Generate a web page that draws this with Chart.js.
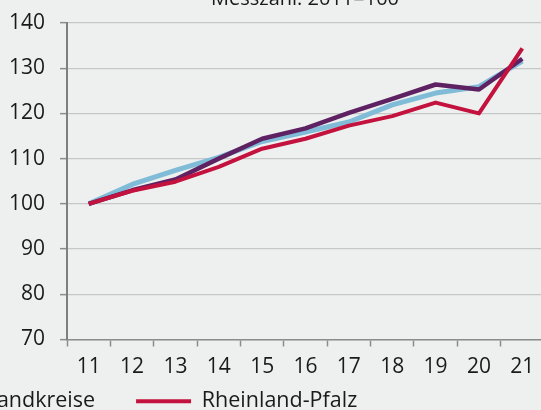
<!DOCTYPE html>
<html>
<head>
<meta charset="utf-8">
<script src="https://cdn.jsdelivr.net/npm/chart.js@4"></script>
<style>
  html, body { margin: 0; padding: 0; background: #eef0ef; overflow: hidden; width: 541px; height: 410px; }
  #wrap { position: absolute; }
</style>
</head>
<body>
<div id="wrap"><canvas id="chart"></canvas></div>
<script>
// Messzahl: 2011=100
const years = ['11', '12', '13', '14', '15', '16', '17', '18', '19', '20', '21'];
const kreisfreieStaedte = [100, 103.0, 105.4, 110.0, 114.4, 116.7, 120.1, 123.2, 126.4, 125.3, 132.1];
const landkreise = [100, 104.3, 107.4, 110.3, 113.8, 115.9, 118.1, 121.9, 124.5, 125.9, 131.6];
const rheinlandPfalz = [100, 102.9, 104.9, 108.2, 112.2, 114.4, 117.3, 119.4, 122.4, 120.0, 134.4];
const yTicks = [70, 80, 90, 100, 110, 120, 130, 140];

// the picture is a crop of a wider figure, so the canvas sticks out of the window
const OFFX = 393, OFFY = 40;
const W = 2 * (305 + OFFX);
const H = 462;
const wrap = document.getElementById('wrap');
wrap.style.left = -OFFX + 'px';
wrap.style.top = -OFFY + 'px';
wrap.style.width = W + 'px';
wrap.style.height = H + 'px';

const font = 'Open Sans';
const ctx = document.getElementById('chart');

function line(label, data, color, width) {
  return {
    label: label,
    data: data,
    borderColor: color,
    backgroundColor: color,
    borderWidth: width,
    pointRadius: 0,
    tension: 0,
    borderJoinStyle: 'round'
  };
}

// x labels sit beside the legend; let them draw outside the thin x scale box
const xLabelRoom = {
  id: 'xLabelRoom',
  afterLayout(chart) {
    const x = chart.scales.x;
    x.bottom = x.top + 60;
  }
};

new Chart(ctx, {
  type: 'line',
  data: {
    labels: years,
    // first dataset is drawn on top
    datasets: [
      line('Rheinland-Pfalz', rheinlandPfalz, '#c4123f', 4),
      line('Kreisfreie Städte', kreisfreieStaedte, '#5e2263', 4.5),
      line('Landkreise', landkreise, '#80bcd8', 5)
    ]
  },
  plugins: [xLabelRoom],
  options: {
    responsive: true,
    maintainAspectRatio: false,
    animation: false,
    layout: { padding: 0 },
    plugins: {
      title: {
        display: true,
        text: 'Messzahl: 2011=100',
        color: '#1a1a1a',
        font: { family: font, size: 20, weight: 'normal' },
        padding: { top: 27, bottom: 12 }
      },
      legend: {
        position: 'bottom',
        align: 'start',
        labels: {
          color: '#1a1a1a',
          font: { family: font, size: 21.5 },
          boxWidth: 55,
          boxHeight: 4,
          padding: 41,
          sort: (a, b) => {
            const order = ['Kreisfreie Städte', 'Landkreise', 'Rheinland-Pfalz'];
            return order.indexOf(a.text) - order.indexOf(b.text);
          },
          generateLabels: (chart) => {
            const items = Chart.defaults.plugins.legend.labels.generateLabels(chart);
            items.forEach(it => { it.lineWidth = 0; });
            return items;
          }
        }
      },
      tooltip: { enabled: false }
    },
    scales: {
      x: {
        offset: true,
        grid: { display: true, drawOnChartArea: false, tickLength: 7, tickColor: '#8c8c8c', tickWidth: 1.5, offset: true },
        border: { color: '#8c8c8c', width: 1.5 },
        ticks: { color: '#1a1a1a', font: { family: font, size: 21 }, padding: 8, maxRotation: 0, autoSkip: false },
        afterFit: (scale) => { scale.height = 10; }
      },
      y: {
        min: 70,
        max: 140,
        afterBuildTicks: (scale) => { scale.ticks = yTicks.map(v => ({ value: v })); },
        grid: { color: '#c6c7c6', lineWidth: 1.3, tickLength: 7, tickColor: '#8c8c8c', tickWidth: 1.5 },
        border: { color: '#7f7f7f', width: 2 },
        ticks: { color: '#1a1a1a', font: { family: font, size: 21 }, padding: 15 },
        afterFit: (scale) => { scale.width = OFFX + 67; }
      },
      yRight: {
        position: 'right',
        display: true,
        grid: { display: false },
        border: { display: false },
        ticks: { display: false },
        afterFit: (scale) => { scale.width = W - (OFFX + 544); }
      }
    }
  }
});
</script>
</body>
</html>
